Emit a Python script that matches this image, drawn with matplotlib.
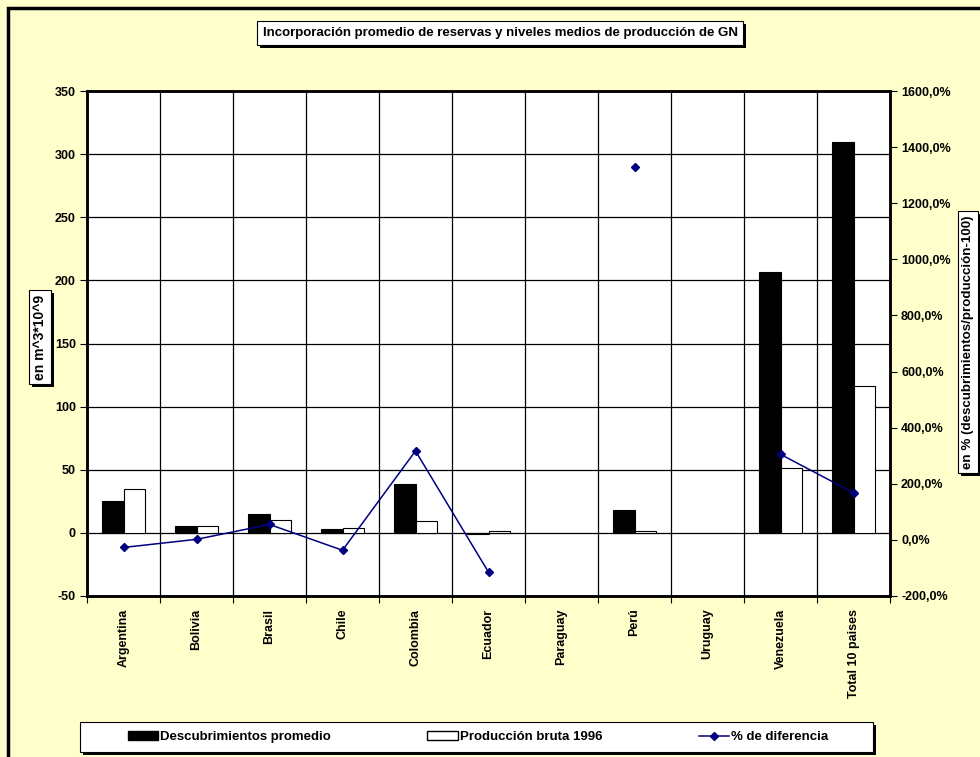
import numpy as np
import matplotlib
matplotlib.use("Agg")
import matplotlib.pyplot as plt
import matplotlib.patheffects as pe
from matplotlib.patches import Rectangle
from matplotlib.ticker import FuncFormatter, MultipleLocator

plt.rcParams['font.family'] = ['Liberation Sans', 'DejaVu Sans']
plt.rcParams['axes.unicode_minus'] = False

# Datos por país (reservas en m^3*10^9, diferencia en %)
paises = ["Argentina", "Bolivia", "Brasil", "Chile", "Colombia", "Ecuador",
          "Paraguay", "Perú", "Uruguay", "Venezuela", "Total 10 paises"]
descubrimientos = [25.5, 5.5, 15, 2.7, 39, -0.5, np.nan, 18.5, np.nan, 207, 310]
produccion = [35, 5.5, 10, 4, 9.5, 1.3, np.nan, 1.3, np.nan, 51.5, 116]
diferencia = [-27, 2, 55, -37, 317, -115, np.nan, 1330, np.nan, 305, 168]

fondo = '#FFFFCC'

fig = plt.figure(figsize=(9.8, 7.57), dpi=100, facecolor=fondo)
W, H = 980, 757


def fx(px):
    return px / W


def fy(py):
    return 1 - py / H


# marco exterior del gráfico
fig.patches.append(Rectangle((fx(8), fy(800)), fx(1000), fy(8) - fy(800),
                             transform=fig.transFigure, facecolor='none',
                             edgecolor='black', lw=2.5))

ax = fig.add_axes([fx(87), fy(596), fx(890) - fx(87), fy(91) - fy(596)])
ax.set_facecolor('white')
x = np.arange(len(paises))
w = 0.29
ax.bar(x - w / 2, descubrimientos, w, color='black', edgecolor='black', lw=0.8, zorder=2)
ax.bar(x + w / 2, produccion, w, color='white', edgecolor='black', lw=0.8, zorder=2)

ax.set_xlim(-0.5, len(paises) - 0.5)
ax.set_ylim(-50, 350)
ax.yaxis.set_major_locator(MultipleLocator(50))
ax.set_xticks(x)
ax.set_xticklabels(paises, rotation=90, fontsize=9, fontweight='bold', va='top')
ax.set_xticks(np.arange(len(paises) + 1) - 0.5, minor=True)
ax.tick_params(axis='x', which='major', length=0, pad=9)
ax.tick_params(axis='x', which='minor', length=5, width=0.8, direction='out')
ax.tick_params(axis='y', length=5, width=0.8, direction='out', pad=3)
for lab in ax.get_yticklabels():
    lab.set_fontsize(9)
    lab.set_fontweight('bold')
ax.grid(True, axis='y', which='major', color='black', lw=0.9)
ax.grid(True, axis='x', which='minor', color='black', lw=0.9)
ax.set_axisbelow(True)

ax2 = ax.twinx()
ax2.plot(x, diferencia, color='#000080', lw=1.1, marker='D', markersize=4.5, zorder=3)
ax2.set_ylim(-200, 1600)
ax2.yaxis.set_major_locator(MultipleLocator(200))
ax2.yaxis.set_major_formatter(FuncFormatter(lambda v, p: f"{v:.1f}%".replace('.', ',')))
ax2.tick_params(axis='y', length=5, width=0.8, direction='out', pad=3)
for lab in ax2.get_yticklabels():
    lab.set_fontsize(9)
    lab.set_fontweight('bold')

for a in (ax, ax2):
    for s in a.spines.values():
        s.set_linewidth(1.8)

sombra = [pe.SimplePatchShadow(offset=(2.2, -2.2), shadow_rgbFace='black', alpha=1), pe.Normal()]


def caja(t):
    t.get_bbox_patch().set_path_effects(sombra)


titulo = fig.text(fx(500), fy(33), "Incorporación promedio de reservas y niveles medios de producción de GN",
                  ha='center', va='center', fontsize=9.5, fontweight='bold',
                  bbox=dict(boxstyle='square,pad=0.45', facecolor='white', edgecolor='black', lw=0.8))
caja(titulo)

ylab = fig.text(fx(40), fy(337), "en m^3*10^9", rotation=90, ha='center', va='center',
                fontsize=10, fontweight='bold',
                bbox=dict(boxstyle='square,pad=0.3', facecolor='white', edgecolor='black', lw=0.8))
caja(ylab)

ylab2 = fig.text(fx(968), fy(342), "en % (descubrimientos/producción-100)", rotation=90,
                 ha='center', va='center', fontsize=9.6, fontweight='bold',
                 bbox=dict(boxstyle='square,pad=0.3', facecolor='white', edgecolor='black', lw=0.8))
caja(ylab2)

# cuadro de la leyenda
fig.patches.append(Rectangle((fx(83), fy(755)), fx(873) - fx(80), fy(722) - fy(752),
                             transform=fig.transFigure, facecolor='black', edgecolor='none'))
fig.patches.append(Rectangle((fx(80), fy(752)), fx(873) - fx(80), fy(722) - fy(752),
                             transform=fig.transFigure, facecolor='white', edgecolor='black', lw=0.8))

h1 = Rectangle((0, 0), 1, 1, facecolor='black', edgecolor='black')
h2 = Rectangle((0, 0), 1, 1, facecolor='white', edgecolor='black')
h3, = ax2.plot([], [], color='#000080', lw=1.1, marker='D', markersize=4.5)
fig.legend([h1, h2, h3], ["Descubrimientos promedio", "Producción bruta 1996", "% de diferencia"],
           loc='center left', bbox_to_anchor=(fx(128), fy(737)), ncol=3, frameon=False,
           prop=dict(weight='bold', size=9.5), handlelength=2.3,
           handleheight=0.6, handletextpad=0.15, columnspacing=7.3, borderpad=0,
           borderaxespad=0)

fig.savefig("out.png", dpi=100, facecolor=fondo)
